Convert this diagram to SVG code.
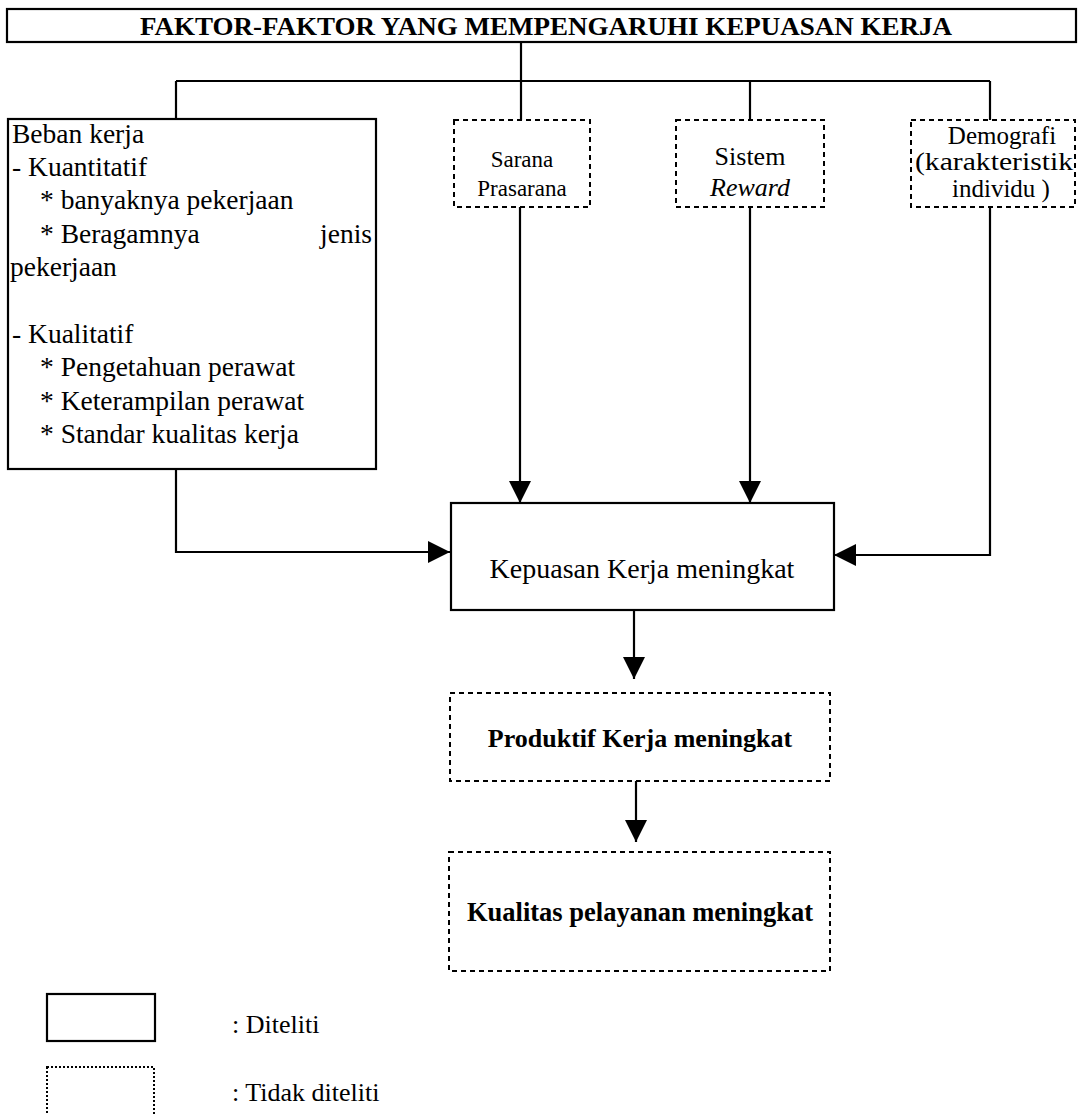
<svg xmlns="http://www.w3.org/2000/svg" width="1081" height="1115" viewBox="0 0 1081 1115">
<defs>
<style>
.t{font-family:"Liberation Serif","Times New Roman",serif;fill:#000}
.b{font-weight:bold}
.solid{fill:#fff;stroke:#000;stroke-width:2.2}
.dash{fill:#fff;stroke:#000;stroke-width:2;stroke-dasharray:5 4}
.ln{fill:none;stroke:#000;stroke-width:2.2}
</style>
<marker id="ah" viewBox="0 0 10 10" refX="10" refY="5" markerWidth="22" markerHeight="22" markerUnits="userSpaceOnUse" orient="auto">
<path d="M0,0 L10,5 L0,10 z" fill="#000"/>
</marker>
</defs>
<rect width="1081" height="1115" fill="#fff"/>
<g id="connectors">
<path class="ln" d="M521,42 V81"/>
<path class="ln" d="M176,81 H990"/>
<path class="ln" d="M176,81 V119"/>
<path class="ln" d="M521,81 V120"/>
<path class="ln" d="M750,81 V120"/>
<path class="ln" d="M990,81 V120"/>
<path class="ln" d="M520,207 V503" marker-end="url(#ah)"/>
<path class="ln" d="M750,207 V503" marker-end="url(#ah)"/>
<path class="ln" d="M176,469 V552 H450" marker-end="url(#ah)"/>
<path class="ln" d="M990,207 V555 H834" marker-end="url(#ah)"/>
<path class="ln" d="M634,610 V679" marker-end="url(#ah)"/>
<path class="ln" d="M636,781 V842" marker-end="url(#ah)"/>
</g>
<g id="title">
<rect class="solid" x="7" y="9" width="1069" height="33"/>
<text class="t b" x="140" y="35" font-size="25" textLength="812" lengthAdjust="spacingAndGlyphs">FAKTOR-FAKTOR YANG MEMPENGARUHI KEPUASAN KERJA</text>
</g>
<g id="beban">
<rect class="solid" x="8" y="119" width="368" height="350"/>
<g class="t" font-size="27.5">
<text x="12" y="143">Beban kerja</text>
<text x="12" y="176">- Kuantitatif</text>
<text x="40" y="209">* banyaknya pekerjaan</text>
<text x="40" y="243">* Beragamnya</text>
<text x="372" y="243" text-anchor="end">jenis</text>
<text x="10" y="276">pekerjaan</text>
<text x="12" y="343">- Kualitatif</text>
<text x="40" y="376">* Pengetahuan perawat</text>
<text x="40" y="410">* Keterampilan perawat</text>
<text x="40" y="443">* Standar kualitas kerja</text>
</g>
</g>
<g id="sarana">
<rect class="dash" x="454" y="120" width="136" height="87"/>
<g class="t" font-size="23" text-anchor="middle">
<text x="522" y="167">Sarana</text>
<text x="522" y="196">Prasarana</text>
</g>
</g>
<g id="sistem">
<rect class="dash" x="676" y="120" width="148" height="87"/>
<g class="t" font-size="26" text-anchor="middle">
<text x="750" y="165">Sistem</text>
<text x="750" y="196" font-style="italic">Reward</text>
</g>
</g>
<g id="demografi">
<rect class="dash" x="911" y="120" width="164" height="87"/>
<g class="t" font-size="25" text-anchor="middle">
<text x="1002" y="144">Demografi</text>
<text x="994" y="170" textLength="158" lengthAdjust="spacingAndGlyphs">(karakteristik</text>
<text x="1001" y="197">individu )</text>
</g>
</g>
<g id="kepuasan">
<rect class="solid" x="451" y="503" width="383" height="107"/>
<text class="t" x="642" y="578" font-size="28" text-anchor="middle">Kepuasan Kerja meningkat</text>
</g>
<g id="produktif">
<rect class="dash" x="450" y="693" width="380" height="88"/>
<text class="t b" x="640" y="747" font-size="26" text-anchor="middle">Produktif Kerja meningkat</text>
</g>
<g id="kualitas">
<rect class="dash" x="449" y="852" width="381" height="119"/>
<text class="t b" x="640" y="921" font-size="26.5" text-anchor="middle">Kualitas pelayanan meningkat</text>
</g>
<g id="legend">
<rect class="solid" x="47" y="994" width="108" height="47" stroke-width="3"/>
<text class="t" x="232" y="1033" font-size="26">: Diteliti</text>
<rect x="47" y="1067" width="107" height="50" fill="#fff" stroke="#000" stroke-width="2" stroke-dasharray="2 2"/>
<text class="t" x="232" y="1101" font-size="26">: Tidak diteliti</text>
</g>
</svg>
